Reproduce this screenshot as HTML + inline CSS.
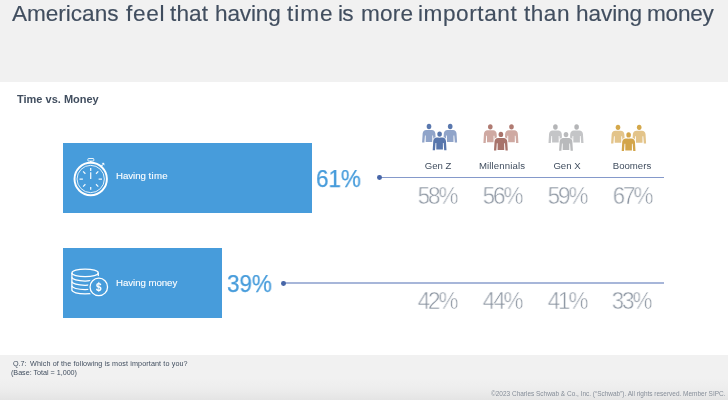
<!DOCTYPE html>
<html><head><meta charset="utf-8">
<style>
*{margin:0;padding:0;box-sizing:border-box}
html,body{width:728px;height:400px;overflow:hidden;background:#fff;font-family:"Liberation Sans",sans-serif;}
.abs{position:absolute;white-space:nowrap;will-change:transform}
#hdr{left:0;top:0;width:728px;height:81.6px;background:#f1f1f1}
.tw{top:1px;font-size:22.6px;color:#414e5f;-webkit-text-stroke:0.15px #414e5f}
#sub{left:17px;top:92.5px;font-size:11px;font-weight:bold;color:#414e5f}
.bar{background:#479cdb}
#bar1{left:63px;top:143px;width:248.5px;height:70.4px}
#bar2{left:63px;top:248px;width:159px;height:70.1px}
.blab{color:#fff;font-size:9.7px;letter-spacing:-0.06px;-webkit-text-stroke:0.1px #fff}
#bl1{left:116.2px;top:169.6px}
#bl2{left:116.2px;top:276.6px}
.big{color:#479cdb;font-size:24.8px;-webkit-text-stroke:0.25px #479cdb;transform:scaleX(0.905);transform-origin:0 0;will-change:transform}
#p1{left:315.7px;top:164.5px}
#p2{left:226.5px;top:269.5px}
.line{height:1.2px;background:#8599ca}
#ln1{left:379px;top:177px;width:284.8px}
#ln2{left:284px;top:282px;width:379.8px;height:2px;background:#a7b6d9}
.dot{width:4.8px;height:4.8px;border-radius:50%;background:#4766a8}
#d1{left:376.5px;top:175.4px}
#d2{left:281.2px;top:280.5px}
.gl{font-size:9.6px;color:#414e5f;transform:translateX(-50%)}
.gv{font-size:23.5px;color:#8d96a2;transform:translateX(-50%) scaleX(0.955);letter-spacing:-2.2px;text-indent:0;-webkit-text-stroke:0.48px #fff;will-change:transform}
#foot{left:0;top:355px;width:728px;height:45px;background:linear-gradient(#f1f1f1 0%,#f1f1f1 52%,#ececec 80%,#e4e4e4 100%)}
.ft{font-size:7.2px;color:#414e5f;line-height:9px}
#cp{right:2.7px;top:389.6px;font-size:6.47px;color:#868e99}
</style></head><body>
<div class="abs" id="hdr"></div>
<div class="abs tw" id="t0" style="left:11.75px;letter-spacing:-0.031px">Americans</div>
<div class="abs tw" id="t1" style="left:125.50px;letter-spacing:0.667px">feel</div>
<div class="abs tw" id="t2" style="left:170.00px;letter-spacing:0.100px">that</div>
<div class="abs tw" id="t3" style="left:214.75px;letter-spacing:-0.150px">having</div>
<div class="abs tw" id="t4" style="left:286.50px;letter-spacing:1.000px">time</div>
<div class="abs tw" id="t5" style="left:338.00px;letter-spacing:-0.750px">is</div>
<div class="abs tw" id="t6" style="left:360.50px;letter-spacing:0.167px">more</div>
<div class="abs tw" id="t7" style="left:418.00px;letter-spacing:0.562px">important</div>
<div class="abs tw" id="t8" style="left:524.00px;letter-spacing:0.500px">than</div>
<div class="abs tw" id="t9" style="left:575.50px;letter-spacing:-0.100px">having</div>
<div class="abs tw" id="t10" style="left:647.00px;letter-spacing:-0.250px">money</div>
<div class="abs" id="sub">Time vs. Money</div>
<div class="abs bar" id="bar1"></div>
<div class="abs bar" id="bar2"></div>
<div class="abs blab" id="bl1">Having <span style="letter-spacing:0.3px">time</span></div>
<div class="abs blab" id="bl2">Having money</div>
<div class="abs big" id="p1">61%</div>
<div class="abs big" id="p2">39%</div>
<div class="abs line" id="ln1"></div>
<div class="abs line" id="ln2"></div>
<div class="abs dot" id="d1"></div>
<div class="abs dot" id="d2"></div>
<div class="abs gl" id="g1" style="left:437.75px;top:159.5px">Gen Z</div>
<div class="abs gl" id="g2" style="left:502.25px;top:159.5px;letter-spacing:0.12px">Millennials</div>
<div class="abs gl" id="g3" style="left:566.6px;top:159.5px">Gen X</div>
<div class="abs gl" id="g4" style="left:631.8px;top:159.5px">Boomers</div>
<div class="abs gv" id="v1" style="left:436.7px;top:182.5px">58%</div>
<div class="abs gv" id="v2" style="left:501.7px;top:182.5px">56%</div>
<div class="abs gv" id="v3" style="left:566.7px;top:182.5px">59%</div>
<div class="abs gv" id="v4" style="left:631.6px;top:182.5px">67%</div>
<div class="abs gv" id="w1" style="left:437.0px;top:287.5px">42%</div>
<div class="abs gv" id="w2" style="left:501.9px;top:287.5px">44%</div>
<div class="abs gv" id="w3" style="left:566.7px;top:287.5px">41%</div>
<div class="abs gv" id="w4" style="left:631.2px;top:287.5px">33%</div>
<svg class="abs" id="sw" style="left:68px;top:153px" width="46" height="48" viewBox="68 153 46 48" fill="none" stroke="#fff">
<circle cx="90.7" cy="179.0" r="16.2" stroke-width="1.95"/>
<circle cx="90.7" cy="179.0" r="13.65" stroke-width="0.85"/>
<rect x="87.9" y="158.5" width="5.9" height="2.6" rx="0.7" stroke-width="0.9"/>
<path d="M90.8 161V162.4" stroke-width="1.4"/>
<path d="M101.4 166L102.7 164.7" stroke-width="1.1"/>
<path d="M101.9 163.2L104.3 165.2L104 162.9Z" fill="#fff" stroke-width="0.3"/>
<g stroke-width="1.25" opacity="0.93">
<path d="M90.7 168.1v3M90.7 172.2v6.7M90.7 187.1v2.7M98.6 179h3.4M79.5 179h3.4"/>
<path d="M96.0 173.7l2.3-2.3M85.4 173.7l-2.3-2.3M96.0 184.3l2.3 2.3M85.4 184.3l-2.3 2.3"/>
</g>
</svg>
<svg class="abs" id="coin" style="left:66px;top:262px" width="46" height="42" viewBox="66 262 46 42" fill="none" stroke="#fff" stroke-width="1.25">
<ellipse cx="85.1" cy="272.9" rx="13.2" ry="3.8"/>
<path d="M71.9 272.9V290.2M98.3 272.9V290.2"/>
<path d="M71.9 277.2A13.2 3.8 0 0 0 98.3 277.2M71.9 281.5A13.2 3.8 0 0 0 98.3 281.5M71.9 285.8A13.2 3.8 0 0 0 98.3 285.8M71.9 290.1A13.2 3.8 0 0 0 98.3 290.1"/>
<circle cx="98.8" cy="286.9" r="9.4" fill="#479cdb" stroke="#479cdb" stroke-width="2.8"/>
<circle cx="98.8" cy="286.9" r="8.75" stroke-width="1.3"/>
<text x="98.8" y="290.6" text-anchor="middle" font-family="Liberation Sans" font-weight="bold" font-size="10.5" fill="#fff" stroke="none" transform="translate(98.8 0) scale(0.86 1) translate(-98.8 0)">S</text>
<path d="M98.8 281.9V291.9" stroke-width="0.9"/>
</svg>
<svg class="abs" id="pp1" style="left:418px;top:120px" width="44" height="36" viewBox="418 120 44 36"><g transform="translate(429.00 124.00)"><path d="M-2.8 6.0Q-5.9 6.1 -6.35 9.4L-6.9 18.6H-4.6L-4.05 11.4L-3.3 11.4V18.0H3.3V11.4L4.05 11.4L4.6 18.6H6.9L6.35 9.4Q5.9 6.1 2.8 6.0Z" fill="#90a4c9"/><ellipse cx="0" cy="2.5" rx="2.3" ry="2.65" fill="#5a78ae"/></g><g transform="translate(450.20 124.00)"><path d="M-2.8 6.0Q-5.9 6.1 -6.35 9.4L-6.9 18.6H-4.6L-4.05 11.4L-3.3 11.4V18.0H3.3V11.4L4.05 11.4L4.6 18.6H6.9L6.35 9.4Q5.9 6.1 2.8 6.0Z" fill="#90a4c9"/><ellipse cx="0" cy="2.5" rx="2.3" ry="2.65" fill="#5a78ae"/></g><g transform="translate(439.60 131.60)"><path d="M-2.8 6.0Q-5.9 6.1 -6.35 9.4L-6.9 18.6H-4.6L-4.05 11.4L-3.3 11.4V18.0H3.3V11.4L4.05 11.4L4.6 18.6H6.9L6.35 9.4Q5.9 6.1 2.8 6.0Z" fill="#5876ac" stroke="#fff" stroke-width="1.3" paint-order="stroke"/><ellipse cx="0" cy="2.5" rx="2.3" ry="2.65" fill="#5876ac" stroke="#fff" stroke-width="1.3" paint-order="stroke"/></g></svg>
<svg class="abs" id="pp2" style="left:479px;top:120px" width="44" height="36" viewBox="479 120 44 36"><g transform="translate(490.30 124.30)"><path d="M-2.8 6.0Q-5.9 6.1 -6.35 9.4L-6.9 18.6H-4.6L-4.05 11.4L-3.3 11.4V18.0H3.3V11.4L4.05 11.4L4.6 18.6H6.9L6.35 9.4Q5.9 6.1 2.8 6.0Z" fill="#cfa9a2"/><ellipse cx="0" cy="2.5" rx="2.3" ry="2.65" fill="#b07b72"/></g><g transform="translate(511.50 124.30)"><path d="M-2.8 6.0Q-5.9 6.1 -6.35 9.4L-6.9 18.6H-4.6L-4.05 11.4L-3.3 11.4V18.0H3.3V11.4L4.05 11.4L4.6 18.6H6.9L6.35 9.4Q5.9 6.1 2.8 6.0Z" fill="#cfa9a2"/><ellipse cx="0" cy="2.5" rx="2.3" ry="2.65" fill="#b07b72"/></g><g transform="translate(500.90 131.90)"><path d="M-2.8 6.0Q-5.9 6.1 -6.35 9.4L-6.9 18.6H-4.6L-4.05 11.4L-3.3 11.4V18.0H3.3V11.4L4.05 11.4L4.6 18.6H6.9L6.35 9.4Q5.9 6.1 2.8 6.0Z" fill="#a8736b" stroke="#fff" stroke-width="1.3" paint-order="stroke"/><ellipse cx="0" cy="2.5" rx="2.3" ry="2.65" fill="#a8736b" stroke="#fff" stroke-width="1.3" paint-order="stroke"/></g></svg>
<svg class="abs" id="pp3" style="left:544px;top:120px" width="44" height="36" viewBox="544 120 44 36"><g transform="translate(555.40 124.50)"><path d="M-2.8 6.0Q-5.9 6.1 -6.35 9.4L-6.9 18.6H-4.6L-4.05 11.4L-3.3 11.4V18.0H3.3V11.4L4.05 11.4L4.6 18.6H6.9L6.35 9.4Q5.9 6.1 2.8 6.0Z" fill="#c4c5c7"/><ellipse cx="0" cy="2.5" rx="2.3" ry="2.65" fill="#b4b5b7"/></g><g transform="translate(576.60 124.50)"><path d="M-2.8 6.0Q-5.9 6.1 -6.35 9.4L-6.9 18.6H-4.6L-4.05 11.4L-3.3 11.4V18.0H3.3V11.4L4.05 11.4L4.6 18.6H6.9L6.35 9.4Q5.9 6.1 2.8 6.0Z" fill="#c4c5c7"/><ellipse cx="0" cy="2.5" rx="2.3" ry="2.65" fill="#b4b5b7"/></g><g transform="translate(566.00 132.10)"><path d="M-2.8 6.0Q-5.9 6.1 -6.35 9.4L-6.9 18.6H-4.6L-4.05 11.4L-3.3 11.4V18.0H3.3V11.4L4.05 11.4L4.6 18.6H6.9L6.35 9.4Q5.9 6.1 2.8 6.0Z" fill="#b9babc" stroke="#fff" stroke-width="1.3" paint-order="stroke"/><ellipse cx="0" cy="2.5" rx="2.3" ry="2.65" fill="#b9babc" stroke="#fff" stroke-width="1.3" paint-order="stroke"/></g></svg>
<svg class="abs" id="pp4" style="left:607px;top:120px" width="44" height="36" viewBox="607 120 44 36"><g transform="translate(618.00 124.80)"><path d="M-2.8 6.0Q-5.9 6.1 -6.35 9.4L-6.9 18.6H-4.6L-4.05 11.4L-3.3 11.4V18.0H3.3V11.4L4.05 11.4L4.6 18.6H6.9L6.35 9.4Q5.9 6.1 2.8 6.0Z" fill="#e3c48a"/><ellipse cx="0" cy="2.5" rx="2.3" ry="2.65" fill="#d4a84b"/></g><g transform="translate(639.20 124.80)"><path d="M-2.8 6.0Q-5.9 6.1 -6.35 9.4L-6.9 18.6H-4.6L-4.05 11.4L-3.3 11.4V18.0H3.3V11.4L4.05 11.4L4.6 18.6H6.9L6.35 9.4Q5.9 6.1 2.8 6.0Z" fill="#e3c48a"/><ellipse cx="0" cy="2.5" rx="2.3" ry="2.65" fill="#d4a84b"/></g><g transform="translate(628.60 132.40)"><path d="M-2.8 6.0Q-5.9 6.1 -6.35 9.4L-6.9 18.6H-4.6L-4.05 11.4L-3.3 11.4V18.0H3.3V11.4L4.05 11.4L4.6 18.6H6.9L6.35 9.4Q5.9 6.1 2.8 6.0Z" fill="#d3a54a" stroke="#fff" stroke-width="1.3" paint-order="stroke"/><ellipse cx="0" cy="2.5" rx="2.3" ry="2.65" fill="#d3a54a" stroke="#fff" stroke-width="1.3" paint-order="stroke"/></g></svg>
<div class="abs" id="foot"></div>
<div class="abs ft" id="q0" style="left:12.6px;top:359px">Q.7:</div>
<div class="abs ft" id="q1" style="left:29.5px;top:359px;letter-spacing:0.115px">Which of the following is most important to you?</div>
<div class="abs ft" id="q2" style="left:10.8px;top:368px;letter-spacing:-0.02px">(Base: Total = 1,000)</div>
<div class="abs" id="cp">©2023 Charles Schwab &amp; Co., Inc. (“Schwab”). All rights reserved. Member SIPC.</div>
</body></html>
